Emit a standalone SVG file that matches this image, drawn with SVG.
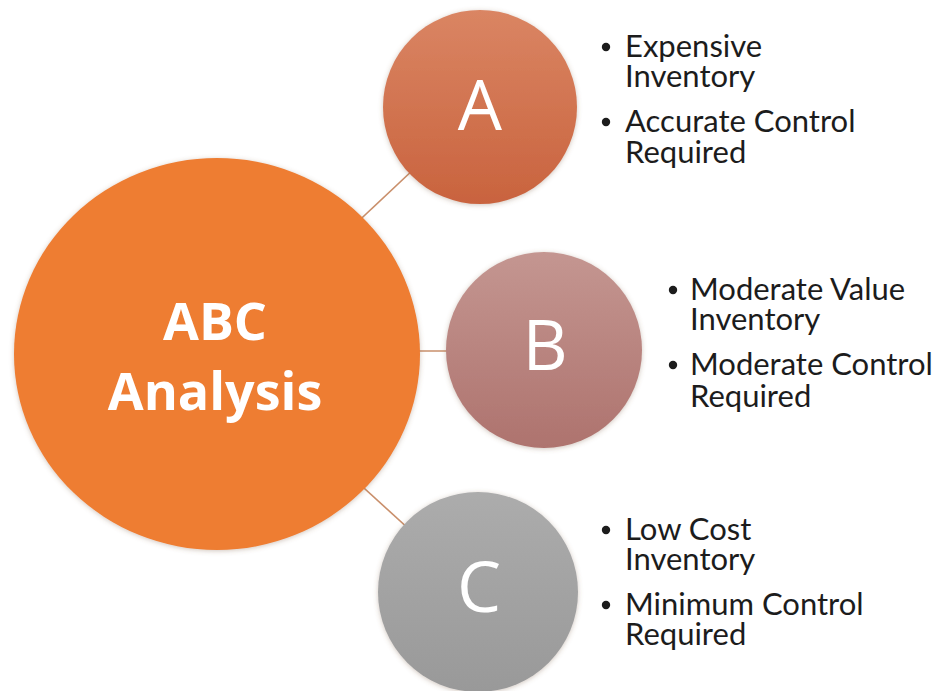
<svg xmlns="http://www.w3.org/2000/svg" width="944" height="691" viewBox="0 0 944 691">
  <defs>
    <linearGradient id="gradA" x1="0" y1="0" x2="0" y2="1">
      <stop offset="0" stop-color="#da8563"/>
      <stop offset="1" stop-color="#c9633e"/>
    </linearGradient>
    <linearGradient id="gradB" x1="0" y1="0" x2="0" y2="1">
      <stop offset="0" stop-color="#c49691"/>
      <stop offset="1" stop-color="#ae736e"/>
    </linearGradient>
    <linearGradient id="gradC" x1="0" y1="0" x2="0" y2="1">
      <stop offset="0" stop-color="#acacac"/>
      <stop offset="1" stop-color="#999999"/>
    </linearGradient>
    <filter id="soft" x="-10%" y="-10%" width="120%" height="120%">
      <feGaussianBlur in="SourceAlpha" stdDeviation="2.5"/>
      <feOffset dx="0" dy="1" result="blur"/>
      <feFlood flood-color="#7a5a40" flood-opacity="0.35"/>
      <feComposite in2="blur" operator="in" result="shadow"/>
      <feMerge>
        <feMergeNode in="shadow"/>
        <feMergeNode in="SourceGraphic"/>
      </feMerge>
    </filter>
  </defs>
  <style>
    .link { stroke: #c98f6b; stroke-width: 1.6; fill: none; }
    .hub-label { font-family: "Open Sans", "Liberation Sans", sans-serif; font-weight: 700; font-size: 52px; fill: #ffffff; text-anchor: middle; }
    .tier-label { font-family: "Open Sans", "Liberation Sans", sans-serif; font-size: 70px; fill: #ffffff; text-anchor: middle; }
    .note { font-family: Lato, "Liberation Sans", sans-serif; font-size: 31px; fill: #1c1c1c; }
    .dot { fill: #1c1c1c; }
  </style>

  <rect width="944" height="691" fill="#ffffff"/>

  <!-- connectors from the hub to each tier -->
  <g id="connectors">
    <line class="link" x1="217" y1="354" x2="480" y2="107"/>
    <line class="link" x1="217" y1="351" x2="544" y2="351"/>
    <line class="link" x1="217" y1="354" x2="478" y2="592"/>
  </g>

  <!-- hub -->
  <g id="hub">
    <ellipse cx="217" cy="354" rx="203" ry="196" fill="#ee7d31" filter="url(#soft)"/>
    <text class="hub-label" x="215" y="340">ABC</text>
    <text class="hub-label" x="215" y="410">Analysis</text>
  </g>

  <!-- tier A -->
  <g id="tier-a">
    <circle cx="480" cy="107" r="97" fill="url(#gradA)" filter="url(#soft)"/>
    <text class="tier-label" x="480" y="130">A</text>
  </g>
  <g id="notes-a">
    <circle class="dot" cx="606" cy="47" r="4.2"/>
    <text class="note" x="625" y="57">Expensive</text>
    <text class="note" x="625" y="87">Inventory</text>
    <circle class="dot" cx="606" cy="122" r="4.2"/>
    <text class="note" x="625" y="132">Accurate Control</text>
    <text class="note" x="625" y="163">Required</text>
  </g>

  <!-- tier B -->
  <g id="tier-b">
    <circle cx="544" cy="350" r="98" fill="url(#gradB)" filter="url(#soft)"/>
    <text class="tier-label" x="545" y="370">B</text>
  </g>
  <g id="notes-b">
    <circle class="dot" cx="673" cy="290" r="4.2"/>
    <text class="note" x="690" y="300">Moderate Value</text>
    <text class="note" x="690" y="330">Inventory</text>
    <circle class="dot" cx="673" cy="365" r="4.2"/>
    <text class="note" x="690" y="375">Moderate Control</text>
    <text class="note" x="690" y="407">Required</text>
  </g>

  <!-- tier C -->
  <g id="tier-c">
    <circle cx="478" cy="592" r="100" fill="url(#gradC)" filter="url(#soft)"/>
    <text class="tier-label" x="479" y="612">C</text>
  </g>
  <g id="notes-c">
    <circle class="dot" cx="606" cy="530" r="4.2"/>
    <text class="note" x="625" y="540">Low Cost</text>
    <text class="note" x="625" y="570">Inventory</text>
    <circle class="dot" cx="606" cy="605" r="4.2"/>
    <text class="note" x="625" y="615">Minimum Control</text>
    <text class="note" x="625" y="645">Required</text>
  </g>
</svg>
